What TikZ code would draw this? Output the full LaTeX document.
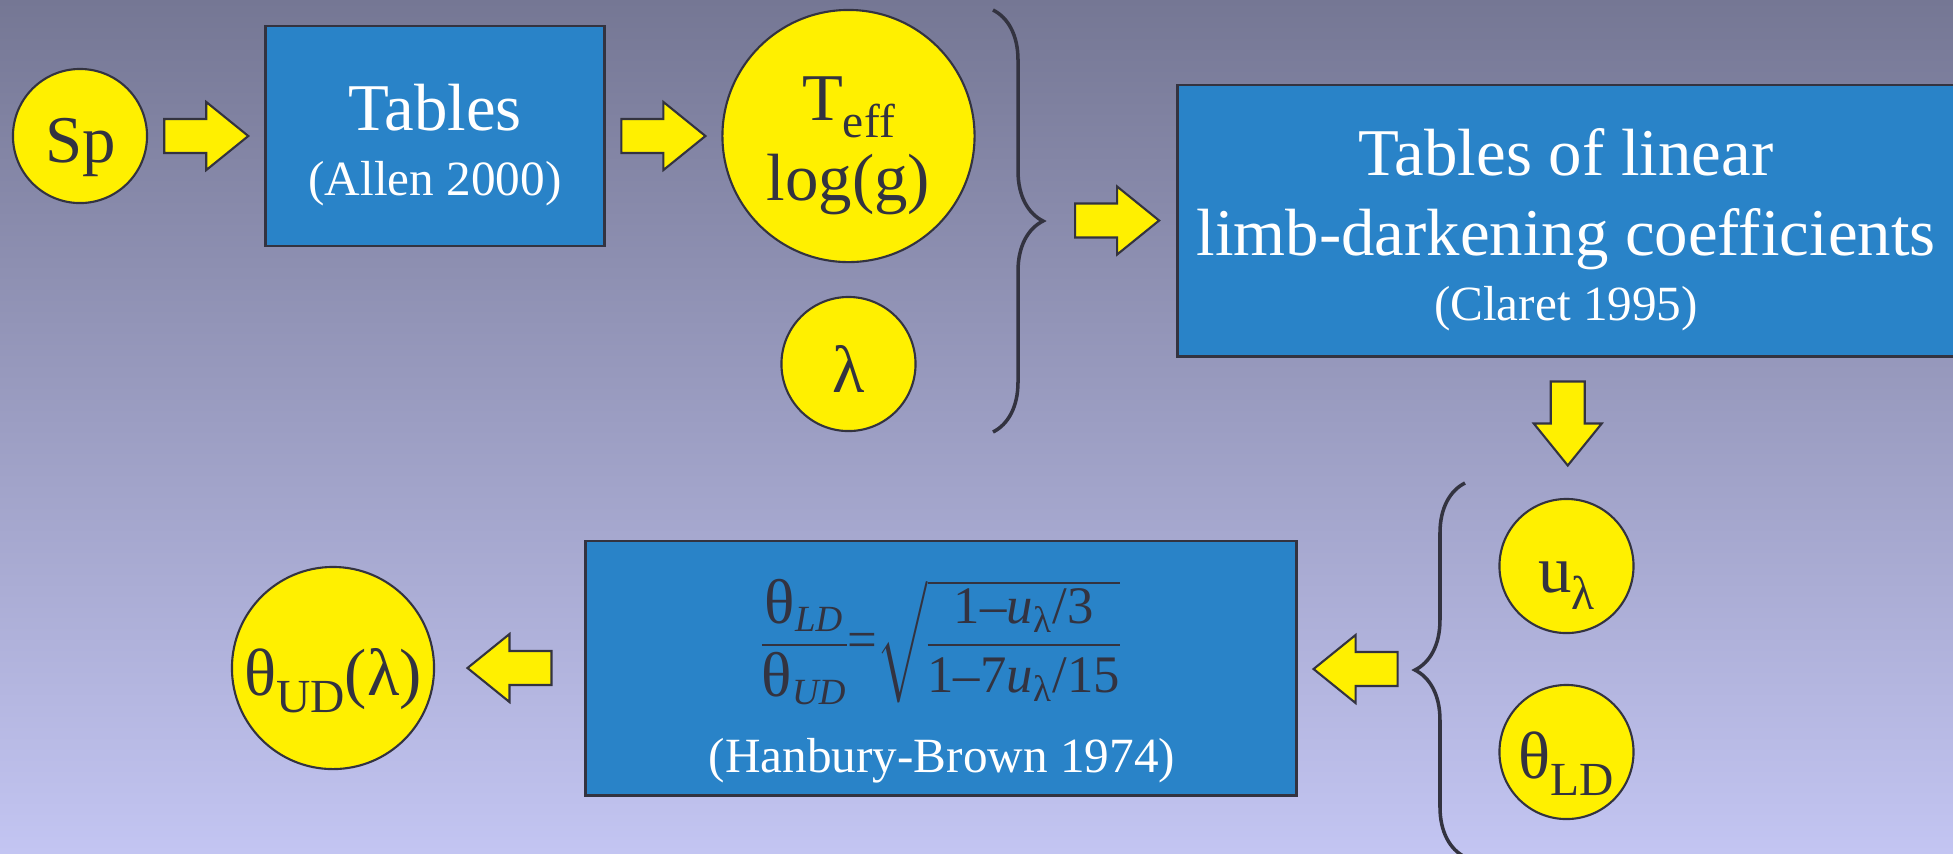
\documentclass[tikz,border=0pt]{standalone}
\usepackage{fontspec}
\setmainfont{Liberation Serif}
\usepackage{amsmath}
\usepackage{tikz}
\usetikzlibrary{positioning, calc, decorations.pathreplacing}
\definecolor{bgtop}{RGB}{117,119,148}
\definecolor{bgbot}{RGB}{195,197,242}
\definecolor{boxblue}{RGB}{41,131,200}
\definecolor{myyellow}{RGB}{255,240,0}
\definecolor{mydark}{RGB}{51,51,64}
\newcommand{\fbig}{\fontsize{19}{23}\selectfont}
\newcommand{\fref}{\fontsize{14}{17}\selectfont}
\newcommand{\fsub}{\fontsize{13.5}{16}\selectfont}
\newcommand{\lowsub}[1]{\raisebox{-0.17cm}{\fsub #1}}
\newcommand{\eqtheta}{\text{\scalebox{1.2}{θ}}}
\tikzset{
  bluebox/.style={rectangle, draw=mydark, fill=boxblue, line width=0.8pt, inner sep=0pt},
  disc/.style={circle, draw=mydark, fill=myyellow, line width=0.6pt, inner sep=0pt},
  dtext/.style={anchor=base, inner sep=0pt, text=mydark},
  btext/.style={anchor=base, inner sep=0pt, text=white},
  brace/.style={decorate, decoration={brace, amplitude=0.5cm}, line width=1pt, color=mydark},
  fatarrow/.pic={
    \draw[fill=myyellow, draw=mydark, line width=0.6pt, line join=miter]
      (-42,-17) -- (0,-17) -- (0,-34) -- (42,0) -- (0,34) -- (0,17) -- (-42,17) -- cycle;
  }
}
\begin{document}
\begin{tikzpicture}[x=0.01cm, y=-0.01cm]
  \useasboundingbox (0,0) rectangle (1953,853);
  % Background
  \shade[top color=bgtop, bottom color=bgbot] (0,0) rectangle (1953,853);

  % Spectral type
  \node[disc, minimum size=1.34cm] (sp) at (80,136) {};
  \node[dtext] (sptxt) at (81,162) {\fbig Sp};

  % Allen tables
  \node[bluebox, minimum width=3.38cm, minimum height=2.2cm] (tab) at (435,136) {};
  \node[btext] (tabname) at (435,130) {\fbig Tables};
  \node[btext] (tabref) at (435,195) {\fref (Allen 2000)};

  % Teff and log g
  \node[disc, minimum size=2.52cm] (teff) at (848.5,136) {};
  \node[dtext] (tefftxt) at (848.5,120) {\fbig T\lowsub{eff}};
  \node[dtext] (loggtxt) at (848.5,200) {\fbig log(g)};

  % Wavelength
  \node[disc, minimum size=1.34cm] (lam) at (848.5,364) {};
  \node[dtext] (lamtxt) at (848.5,392) {\fbig λ};

  % Claret tables
  \node[bluebox, minimum width=7.8cm, minimum height=2.71cm] (claret) at (1567.75,220.5) {};
  \node[btext] (clline1) at (1566,175) {\fbig Tables of linear};
  \node[btext] (clline2) at (1566,255) {\fbig limb-darkening coefficients};
  \node[btext] (clref) at (1566,320) {\fref (Claret 1995)};

  % Coefficient and LD diameter
  \node[disc, minimum size=1.34cm] (ulam) at (1566.5,566) {};
  \node[dtext] (ulamtxt) at (1566.5,592) {\fbig u\lowsub{λ}};
  \node[disc, minimum size=1.34cm] (thld) at (1566.5,752) {};
  \node[dtext] (thldtxt) at (1566.5,778) {\fbig θ\lowsub{LD}};

  % Hanbury-Brown relation
  \node[bluebox, minimum width=7.11cm, minimum height=2.54cm] (hb) at (941,668) {};
  \node[inner sep=0pt, text=mydark] (hbeq) at (941,642) {\fontsize{15}{18}\selectfont\nulldelimiterspace=0pt
    $\dfrac{\eqtheta_{\textit{LD}}}{\eqtheta_{\textit{UD}}}\text{=}\sqrt{\dfrac{\text{1–}\textit{u}_{\text{λ}}\text{/3}}{\text{1–7}\textit{u}_{\text{λ}}\text{/15}}}$};
  \node[btext] (hbref) at (942,772) {\fref (Hanbury-Brown 1974)};

  % UD diameter
  \node[disc, minimum size=2.02cm] (thud) at (333,668) {};
  \node[dtext] (thudtxt) at (333,695) {\fbig θ\lowsub{UD}(λ)};

  % Braces
  \draw[brace] (993,10) -- (993,432);
  \draw[brace] (1465,857) -- (1465,483);
  \coordinate (lowtip) at (1413,670);

  % Arrows
  \pic at ($(sp.east)!0.5!(tab.west)$) {fatarrow};
  \pic at ($(tab.east)!0.5!(teff.west)$) {fatarrow};
  \pic at ($(claret.west)+(-59,0)$) {fatarrow};
  \pic[rotate=-90] at ($(claret.south)+(0,66)$) {fatarrow};
  \pic[rotate=180] at ($(hb.east)!0.5!(lowtip)$) {fatarrow};
  \pic[rotate=180] at ($(thud.east)!0.5!(hb.west)$) {fatarrow};
\end{tikzpicture}
\end{document}
